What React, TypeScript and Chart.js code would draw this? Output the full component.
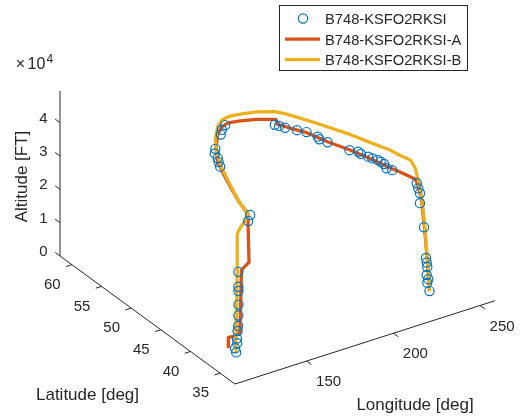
import React, { useEffect, useRef } from "react";
import { Chart, registerables } from "chart.js";

Chart.register(...registerables);

// ---------- axis limits and ticks ----------
const lonLimits = [108.7, 258.6];
const latLimits = [32.5, 62.0];
const altLimits = [0, 49500];

const lonTicks = [150, 200, 250];
const latTicks = [35, 40, 45, 50, 55, 60];
const altTicks = [0, 10000, 20000, 30000, 40000];
const altTickLabels = ["0", "1", "2", "3", "4"];
const altExponent = "4";

const axisTitles = { lon: "Longitude [deg]", lat: "Latitude [deg]", alt: "Altitude [FT]" };

const seriesLabels = ["B748-KSFO2RKSI", "B748-KSFO2RKSI-A", "B748-KSFO2RKSI-B"];
const seriesColors = ["#0072BD", "#D95319", "#EDB120"];

// ---------- observed track (circles) ----------
const obsLon = [
  237.6, 237.2, 237.1, 236.8, 236.6, 236.3, 236.1, 234.6, 233.2, 232.8, 232.4, 232.0,
  225.0, 223.8, 225.1, 225.0, 224.7, 223.5, 222.8, 221.3, 221.5, 218.8, 214.4, 212.7,
  213.5, 211.5, 208.7, 205.3, 203.9, 202.8,
  180.0, 176.0, 173.0, 163.0, 160.3, 158.9, 157.1, 155.2,
  140.7, 139.4, 131.5, 130.5, 130.2, 129.5, 128.9, 128.3, 128.0, 127.6, 127.4, 126.9, 126.5,
];
const obsLat = [
  37.4, 37.66, 37.46, 37.64, 37.48, 37.49, 37.55, 37.45, 37.72, 37.6, 37.77, 37.92,
  40.0, 40.6, 41.4, 41.95, 42.4, 42.9, 43.4, 44.2, 44.7, 45.4, 47.8, 48.7,
  49.2, 50.5, 51.3, 52.3, 52.9, 53.3,
  55.0, 54.4, 53.7, 51.7, 51.0, 50.1, 49.4, 48.6,
  39.3, 39.25, 38.6, 38.3, 38.2, 38.0, 37.85, 37.7, 37.7, 37.7, 37.6, 37.8, 37.5,
];
const obsAlt = [
  0, 2250, 3600, 4650, 7300, 8700, 10000, 19600, 26700, 29900, 31200, 32600,
  35000, 35000, 35000, 35000, 35000, 35000, 35000, 35000, 35000, 35000, 35000, 35000,
  35000, 35000, 35000, 35000, 35000, 35000,
  36500, 36500, 36500, 36500, 36500, 36500, 36500, 36500,
  36500, 35000, 21900, 18000, 16900, 13200, 10200, 7400, 5900, 3700, 2500, 800, 0,
];

// ---------- trajectory A ----------
const aLon = [
  237.6, 236.3, 235.0, 233.5, 232.0, 231.0, 227.1, 225.3, 222.5, 219.1, 214.7, 211.3,
  207.1, 204.1, 203.4, 195.9, 188.3, 182.3, 177.7, 171.5, 163.7, 156.9, 152.2, 147.1,
  143.2, 140.7, 138.0, 134.0, 130.0, 128.5, 126.5, 126.4,
];
const aLat = [
  37.4, 37.36, 37.5, 37.6, 37.8, 37.9, 39.3, 40.5, 43.0, 45.4, 47.8, 50.4,
  52.0, 53.3, 53.3, 54.3, 54.9, 55.2, 54.9, 53.8, 51.8, 49.5, 47.1, 44.2,
  41.8, 39.7, 38.7, 38.8, 37.9, 38.5, 38.8, 38.8,
];
const aAlt = [
  0, 9000, 19600, 28600, 32600, 34100, 35000, 35000, 35000, 35000, 35000, 35000,
  35000, 35000, 36500, 36500, 36500, 36500, 36500, 36500, 36500, 36500, 36500, 36500,
  36500, 36500, 23600, 21800, 4700, 3200, 2800, 0,
];

// ---------- trajectory B ----------
const bLon = [
  237.6, 235.5, 234.0, 232.5, 231.0, 230.0, 228.3, 227.3, 223.4, 219.8, 212.5, 205.6,
  202.3, 194.8, 186.9, 180.7, 176.4, 170.9, 162.6, 156.6, 150.4, 143.4, 138.1, 134.7,
  132.0, 130.5, 129.5, 128.0, 127.0, 126.4,
];
const bLat = [
  37.4, 37.55, 37.66, 37.8, 37.9, 38.4, 39.7, 41.05, 43.3, 45.6, 49.1, 52.1,
  53.1, 54.0, 54.5, 54.7, 54.5, 53.6, 51.6, 49.6, 47.0, 43.3, 40.3, 37.8,
  38.5, 38.5, 38.2, 37.9, 37.7, 37.5,
];
const bAlt = [
  0, 19400, 28500, 33700, 37400, 39300, 39300, 39300, 39300, 39300, 39300, 39300,
  39300, 39300, 39300, 39300, 39300, 39300, 39300, 39300, 39300, 39300, 39300, 39300,
  35000, 33500, 23400, 12000, 3400, 0,
];

// ---------- view (orthographic projection of the axis box) ----------
const CANVAS_W = 523;
const CANVAS_H = 420;
const VIEW = {
  origin: [235, 384],
  lonAxis: [260, -83.3],
  latAxis: [-175, -128],
  altAxis: [0, -165],
};
const TEXT_COLOR = "#262626";
const FONT = '"Liberation Sans", Arial, Helvetica, sans-serif';

function project(lon: number, lat: number, alt: number) {
  const u = (lon - lonLimits[0]) / (lonLimits[1] - lonLimits[0]);
  const v = (lat - latLimits[0]) / (latLimits[1] - latLimits[0]);
  const w = (alt - altLimits[0]) / (altLimits[1] - altLimits[0]);
  return {
    x: VIEW.origin[0] + u * VIEW.lonAxis[0] + v * VIEW.latAxis[0] + w * VIEW.altAxis[0],
    y: VIEW.origin[1] + u * VIEW.lonAxis[1] + v * VIEW.latAxis[1] + w * VIEW.altAxis[1],
  };
}

function toPoints(lon: number[], lat: number[], alt: number[]) {
  return lon.map((v, i) => project(v, lat[i], alt[i]));
}

const axesPlugin = {
  id: "axes3d",
  beforeDatasetsDraw(chart: any) {
    const ctx = chart.ctx;
    const sx = chart.scales.x;
    const sy = chart.scales.y;
    const P = (lon: number, lat: number, alt: number) => {
      const p = project(lon, lat, alt);
      return [sx.getPixelForValue(p.x), sy.getPixelForValue(p.y)];
    };
    const unit = (a: number[], b: number[]) => {
      const dx = b[0] - a[0];
      const dy = b[1] - a[1];
      const l = Math.hypot(dx, dy);
      return [dx / l, dy / l];
    };
    const seg = (a: number[], b: number[]) => {
      ctx.beginPath();
      ctx.moveTo(a[0], a[1]);
      ctx.lineTo(b[0], b[1]);
      ctx.stroke();
    };
    const [lo0, lo1] = lonLimits;
    const [la0, la1] = latLimits;
    const [al0, al1] = altLimits;
    const corner = P(lo0, la0, al0);
    const lonEnd = P(lo1, la0, al0);
    const latEnd = P(lo0, la1, al0);
    const altEnd = P(lo0, la1, al1);
    const lonDir = unit(corner, lonEnd);
    const latDir = unit(corner, latEnd);
    const tickLen = 6;

    ctx.save();
    ctx.strokeStyle = TEXT_COLOR;
    ctx.lineWidth = 1;
    seg(corner, lonEnd);
    seg(corner, latEnd);
    seg(latEnd, altEnd);

    ctx.fillStyle = TEXT_COLOR;
    ctx.font = `15px ${FONT}`;
    ctx.textAlign = "center";
    ctx.textBaseline = "middle";

    lonTicks.forEach((t) => {
      const p = P(t, la0, al0);
      seg(p, [p[0] - latDir[0] * tickLen, p[1] - latDir[1] * tickLen]);
      ctx.fillText(String(t), p[0] + 22, p[1] + 21);
    });
    latTicks.forEach((t) => {
      const p = P(lo0, t, al0);
      seg(p, [p[0] - lonDir[0] * tickLen, p[1] - lonDir[1] * tickLen]);
      ctx.fillText(String(t), p[0] - 19.5, p[1] + 20);
    });
    altTicks.forEach((t, i) => {
      const p = P(lo0, la1, t);
      seg(p, [p[0] + latDir[0] * tickLen, p[1] + latDir[1] * tickLen]);
      ctx.fillText(altTickLabels[i], p[0] - 16.7, p[1] - 4.2);
    });

    // exponent
    ctx.font = `16px ${FONT}`;
    ctx.textAlign = "center";
    ctx.fillText("\u00d7", 20.5, 65);
    ctx.textAlign = "left";
    ctx.fillText("10", 27.5, 65);
    ctx.font = `12px ${FONT}`;
    ctx.fillText(altExponent, 46.5, 59.5);

    // axis titles
    ctx.font = `17px ${FONT}`;
    ctx.textAlign = "center";
    ctx.fillText(axisTitles.lon, 415, 405);
    ctx.fillText(axisTitles.lat, 87.5, 395);
    ctx.translate(22.5, 176.5);
    ctx.rotate(-Math.PI / 2);
    ctx.fillText(axisTitles.alt, 0, 0);
    ctx.restore();
  },
};

const legendPlugin = {
  id: "boxLegend",
  afterDraw(chart: any) {
    const ctx = chart.ctx;
    const box = { x: 279.5, y: 5.5, w: 188, h: 65 };
    ctx.save();
    ctx.fillStyle = "#ffffff";
    ctx.fillRect(box.x, box.y, box.w, box.h);
    ctx.strokeStyle = TEXT_COLOR;
    ctx.lineWidth = 1;
    ctx.strokeRect(box.x, box.y, box.w, box.h);
    chart.data.datasets.forEach((ds: any, i: number) => {
      const y = 18.5 + i * 20.6;
      if (ds.showLine) {
        ctx.strokeStyle = ds.borderColor;
        ctx.lineWidth = ds.borderWidth;
        ctx.beginPath();
        ctx.moveTo(285, y);
        ctx.lineTo(320, y);
        ctx.stroke();
      } else {
        ctx.strokeStyle = ds.pointBorderColor;
        ctx.lineWidth = ds.pointBorderWidth;
        ctx.beginPath();
        ctx.arc(303, y, ds.pointRadius, 0, Math.PI * 2);
        ctx.stroke();
      }
      ctx.fillStyle = TEXT_COLOR;
      ctx.font = `14.7px ${FONT}`;
      ctx.textAlign = "left";
      ctx.textBaseline = "middle";
      ctx.fillText(ds.label, 325, y + 1.5);
    });
    ctx.restore();
  },
};

export default function App() {
  const ref = useRef<HTMLCanvasElement>(null);

  useEffect(() => {
    const canvas = ref.current;
    if (!canvas) return;
    const chart = new Chart(canvas, {
      type: "scatter",
      data: {
        datasets: [
          {
            label: seriesLabels[0],
            data: toPoints(obsLon, obsLat, obsAlt),
            showLine: false,
            pointStyle: "circle",
            pointRadius: 4.6,
            pointHoverRadius: 4.6,
            pointBorderWidth: 1.2,
            pointBorderColor: seriesColors[0],
            pointBackgroundColor: "rgba(0,0,0,0)",
            borderColor: seriesColors[0],
            backgroundColor: "rgba(0,0,0,0)",
            order: 0,
          },
          {
            label: seriesLabels[1],
            data: toPoints(aLon, aLat, aAlt),
            showLine: true,
            pointRadius: 0,
            pointHoverRadius: 0,
            borderColor: seriesColors[1],
            backgroundColor: seriesColors[1],
            borderWidth: 3.3,
            borderJoinStyle: "round",
            tension: 0,
            fill: false,
            order: 2,
          },
          {
            label: seriesLabels[2],
            data: toPoints(bLon, bLat, bAlt),
            showLine: true,
            pointRadius: 0,
            pointHoverRadius: 0,
            borderColor: seriesColors[2],
            backgroundColor: seriesColors[2],
            borderWidth: 3.3,
            borderJoinStyle: "round",
            tension: 0,
            fill: false,
            order: 1,
          },
        ],
      } as any,
      options: {
        responsive: false,
        animation: false,
        devicePixelRatio: 1,
        events: [],
        layout: { padding: 0, autoPadding: false },
        scales: {
          x: { type: "linear", min: 0, max: CANVAS_W, display: false },
          y: { type: "linear", min: 0, max: CANVAS_H, reverse: true, display: false },
        },
        plugins: {
          legend: { display: false },
          tooltip: { enabled: false },
          title: { display: false },
        },
      } as any,
      plugins: [axesPlugin, legendPlugin],
    });
    return () => chart.destroy();
  }, []);

  return (
    <div
      style={{
        position: "fixed",
        left: 0,
        top: 0,
        width: CANVAS_W,
        height: CANVAS_H,
        background: "#ffffff",
      }}
    >
      <canvas ref={ref} width={CANVAS_W} height={CANVAS_H} style={{ display: "block" }} />
    </div>
  );
}
